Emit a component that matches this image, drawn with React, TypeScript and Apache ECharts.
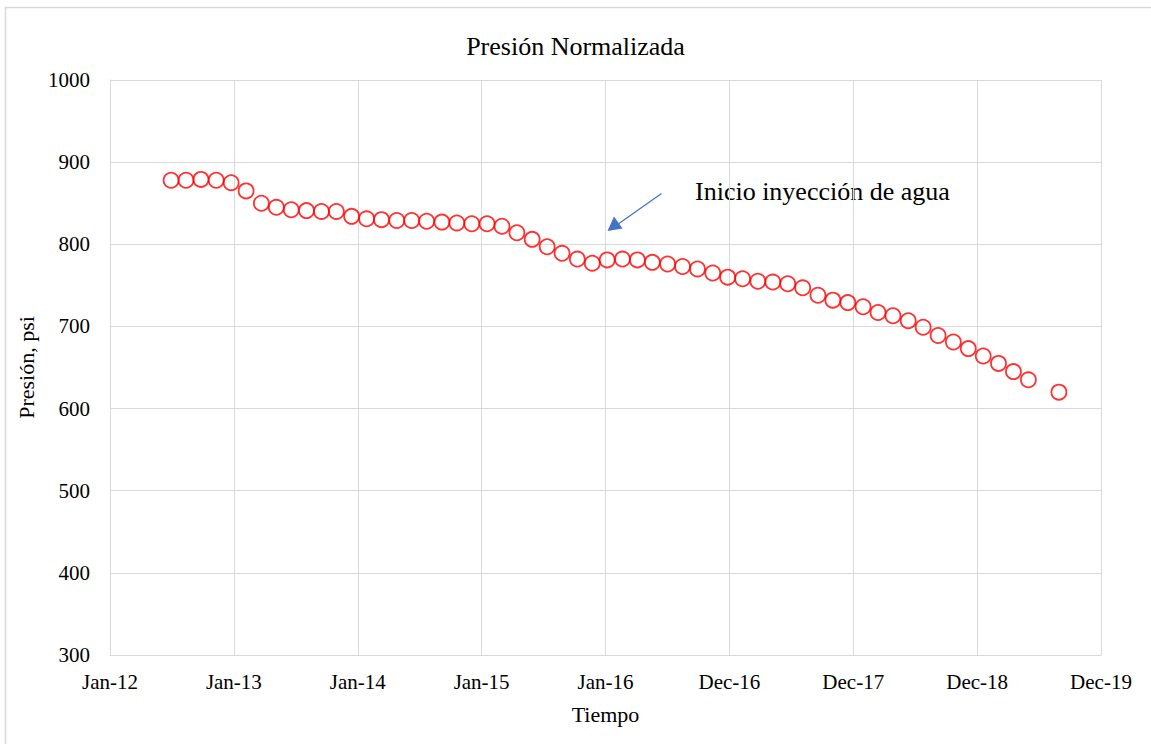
import React, { useEffect, useRef } from "react";
import * as echarts from "echarts";

const START_DATE = "2012-01-02";
const xTickLabels = ["Jan-12", "Jan-13", "Jan-14", "Jan-15", "Jan-16", "Dec-16", "Dec-17", "Dec-18", "Dec-19"];

const dates = [
  "2012-06-30", "2012-08-13", "2012-09-26", "2012-11-10", "2012-12-24",
  "2013-02-06", "2013-03-23", "2013-05-06", "2013-06-19", "2013-08-03",
  "2013-09-16", "2013-10-30", "2013-12-14", "2014-01-27", "2014-03-12",
  "2014-04-26", "2014-06-09", "2014-07-23", "2014-09-06", "2014-10-20",
  "2014-12-03", "2015-01-17", "2015-03-02", "2015-04-15", "2015-05-30",
  "2015-07-13", "2015-08-26", "2015-10-10", "2015-11-23", "2016-01-06",
  "2016-02-20", "2016-04-04", "2016-05-18", "2016-07-02", "2016-08-15",
  "2016-09-28", "2016-11-12", "2016-12-26", "2017-02-08", "2017-03-25",
  "2017-05-08", "2017-06-21", "2017-08-04", "2017-09-18", "2017-11-01",
  "2017-12-15", "2018-01-29", "2018-03-14", "2018-04-27", "2018-06-11",
  "2018-07-25", "2018-09-07", "2018-10-22", "2018-12-05", "2019-01-18",
  "2019-03-04", "2019-04-17", "2019-05-31", "2019-08-29",
];

const pressure = [
  878, 878, 879, 878, 875,
  865, 850, 845, 842, 841,
  840, 840, 834, 831, 830,
  829, 829, 828, 827, 826,
  825, 825, 822, 814, 806,
  797, 789, 782, 777, 781,
  782, 781, 778, 776, 773,
  770, 765, 760, 758, 755,
  754, 752, 747, 738, 732,
  729, 724, 717, 713, 707,
  699, 689, 681, 673, 664,
  655, 645, 635, 620,
];

const DAY = 86400000;
const toDays = (s: string) => {
  const [y, m, d] = s.split("-").map(Number);
  const [y0, m0, d0] = START_DATE.split("-").map(Number);
  return Math.round((Date.UTC(y, m - 1, d) - Date.UTC(y0, m0 - 1, d0)) / DAY);
};

const FONT = '"Liberation Serif", "Times New Roman", serif';

export default function App() {
  const ref = useRef<HTMLDivElement>(null);
  useEffect(() => {
    if (!ref.current) return;
    const chart = echarts.init(ref.current, undefined, { renderer: "svg" });
    const data = dates.map((d, i) => [toDays(d), pressure[i]]);
    chart.setOption({
      animation: false,
      backgroundColor: "#ffffff",
      title: {
        text: "Presión Normalizada",
        left: "center",
        top: 28,
        textStyle: { fontFamily: FONT, fontSize: 26, fontWeight: "normal", color: "#000" },
      },
      grid: { left: 110, right: 50, top: 80, bottom: 89 },
      xAxis: {
        type: "value",
        min: 0,
        max: 365 * 8,
        interval: 365,
        name: "Tiempo",
        nameLocation: "middle",
        nameGap: 48,
        nameTextStyle: { fontFamily: FONT, fontSize: 22, color: "#000" },
        axisLine: { show: true, lineStyle: { color: "#D9D9D9", width: 1 } },
        axisTick: { show: false },
        axisLabel: {
          fontFamily: FONT,
          fontSize: 21,
          color: "#000",
          margin: 16,
          formatter: (v: number) => xTickLabels[Math.round(v / 365)] ?? "",
        },
        splitLine: { show: true, lineStyle: { color: "#D9D9D9", width: 1 } },
      },
      yAxis: {
        type: "value",
        min: 300,
        max: 1000,
        interval: 100,
        name: "Presión, psi",
        nameLocation: "middle",
        nameGap: 72,
        nameTextStyle: { fontFamily: FONT, fontSize: 22, color: "#000" },
        axisLine: { show: true, lineStyle: { color: "#D9D9D9", width: 1 } },
        axisTick: { show: false },
        axisLabel: {
          fontFamily: FONT,
          fontSize: 21,
          color: "#000",
          margin: 20,
          formatter: (v: number) => String(v),
        },
        splitLine: { show: true, lineStyle: { color: "#D9D9D9", width: 1 } },
      },
      series: [
        {
          type: "scatter",
          data,
          symbol: "circle",
          symbolSize: 15,
          itemStyle: { color: "rgba(0,0,0,0)", borderColor: "#FF0000", borderWidth: 1.8 },
        },
      ],
      graphic: [
        {
          type: "rect",
          shape: { x: 5.5, y: 7.5, width: 1150, height: 740 },
          style: { fill: "none", stroke: "#D9D9D9", lineWidth: 1.5 },
          silent: true,
        },
        {
          type: "text",
          x: 695,
          y: 191,
          style: {
            text: "Inicio inyección de agua",
            fontFamily: FONT,
            fontSize: 26,
            fill: "#000",
            verticalAlign: "middle",
            align: "left",
          },
        },
        {
          type: "line",
          shape: { x1: 661.5, y1: 193.5, x2: 619, y2: 223.5 },
          style: { stroke: "#4472C4", lineWidth: 1.2 },
        },
        {
          type: "polygon",
          shape: { points: [[607.5, 231], [614, 216.5], [622.5, 228.5]] },
          style: { fill: "#4472C4" },
        },
      ],
    });
    return () => chart.dispose();
  }, []);
  return (
    <div
      ref={ref}
      style={{ position: "fixed", left: 0, top: 0, width: 1151, height: 744 }}
    />
  );
}
